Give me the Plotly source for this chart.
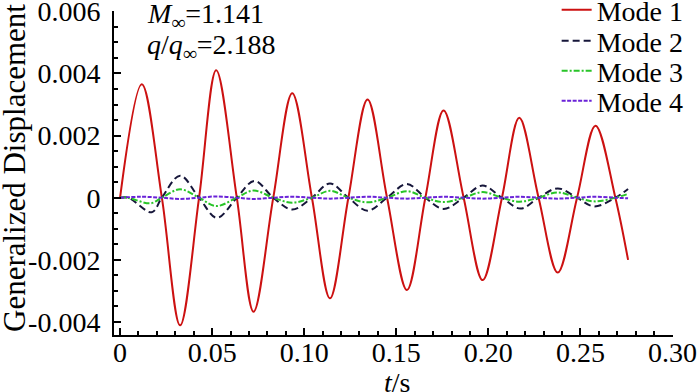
import plotly.graph_objects as go

# ---- data ----
t_mode1 = [0, 0.0118, 0.0227, 0.0326, 0.0429, 0.0522, 0.0634, 0.0725, 0.0832, 0.0935,
           0.1042, 0.114, 0.124, 0.1344, 0.145, 0.1558, 0.1658, 0.1757, 0.1866, 0.1969,
           0.2074, 0.2168, 0.2273, 0.2377, 0.2482, 0.2582, 0.269, 0.2759]
y_mode1 = [0, 0.00365, 0, -0.00411, 0, 0.0041, 0, -0.00367, 0, 0.00336,
           0, -0.00324, 0, 0.00316, 0, -0.00297, 0, 0.00281, 0, -0.00265,
           0, 0.00257, 0, -0.00241, 0, 0.00232, 0, -0.0020]

t_mode2 = [0, 0.0045, 0.0172, 0.0227, 0.0326, 0.0429, 0.0526, 0.0634, 0.073, 0.0832,
           0.0935, 0.1042, 0.114, 0.124, 0.1344, 0.145, 0.1558, 0.1658, 0.1757, 0.1866,
           0.1969, 0.2074, 0.2175, 0.2273, 0.2377, 0.2482, 0.2575, 0.269, 0.2759]
y_mode2 = [0, 0, -0.00047, 0, 0.00071, 0, -0.00065, 0, 0.00054, 0,
           -0.00038, 0, 0.00046, 0, -0.00042, 0, 0.00044, 0, -0.00036, 0,
           0.00039, 0, -0.00035, 0, 0.00030, 0, -0.00028, 0, 0.00028]

t_mode3 = [0, 0.004, 0.0165, 0.0227, 0.0326, 0.0429, 0.0522, 0.0634, 0.0725, 0.0832,
           0.0935, 0.1042, 0.114, 0.124, 0.1344, 0.145, 0.1558, 0.1658, 0.1757, 0.1866,
           0.1969, 0.2074, 0.2168, 0.2273, 0.2377, 0.2482, 0.2582, 0.269, 0.2759]
y_mode3 = [0, 0, -0.00018, 0, 0.00027, 0, -0.00027, 0, 0.00023, 0,
           -0.00016, 0, 0.00022, 0, -0.00015, 0, 0.00021, 0, -0.00014, 0,
           0.00018, 0, -0.00013, 0, 0.00017, 0, -0.00012, 0, 0.00012]

t_mode4 = [0, 0.0118, 0.0227, 0.0326, 0.0429, 0.0522, 0.0634, 0.0725, 0.0832, 0.0935,
           0.1042, 0.114, 0.124, 0.1344, 0.145, 0.1558, 0.1658, 0.1757, 0.1866, 0.1969,
           0.2074, 0.2168, 0.2273, 0.2377, 0.2482, 0.2582, 0.269, 0.2759]
y_mode4 = [0, 0.00003, 0, -0.00004, 0, 0.00004, 0, -0.00004, 0, 0.00003,
           0, -0.00003, 0, 0.00003, 0, -0.00003, 0, 0.00003, 0, -0.00003,
           0, 0.00003, 0, -0.00003, 0, 0.00003, 0, -0.00002]

x_tickvals = [0, 0.05, 0.10, 0.15, 0.20, 0.25, 0.30]
x_ticktext = ["0", "0.05", "0.10", "0.15", "0.20", "0.25", "0.30"]
y_tickvals = [-0.004, -0.002, 0, 0.002, 0.004, 0.006]
y_ticktext = ["-0.004", "-0.002", "0", "0.002", "0.004", "0.006"]

series_names = ["Mode 1", "Mode 2", "Mode 3", "Mode 4"]

FONT = "Liberation Serif"
FS = 28

styles = [
    dict(color="#cc1111", width=2, shape="spline"),
    dict(color="#16163a", width=2, shape="spline", dash="7px,4px"),
    dict(color="#28c428", width=2, shape="spline", dash="6px,2px,2px,2px"),
    dict(color="#6a22d8", width=2, shape="spline", dash="4px,1.5px"),
]
legend_ids = ["legend", "legend2", "legend3", "legend4"]
xs = [t_mode1, t_mode2, t_mode3, t_mode4]
ys = [y_mode1, y_mode2, y_mode3, y_mode4]

fig = go.Figure()
for name, x, y, st, lg in zip(series_names, xs, ys, styles, legend_ids):
    fig.add_trace(go.Scatter(x=x, y=y, name=name, mode="lines", line=st, legend=lg))

# plot area: x 114..673 px, y 11..335 px  (height 324)
legend_rows_px = [10, 41, 71, 101]
legend_layout = {}
for lg, ypx in zip(legend_ids, legend_rows_px):
    legend_layout[lg] = dict(x=1.028, xanchor="right", y=(335 - ypx) / 324, yanchor="middle",
                             bgcolor="rgba(0,0,0,0)", font=dict(family=FONT, size=FS),
                             borderwidth=0, itemwidth=30)

fig.update_layout(
    width=700, height=392,
    margin=dict(l=114, r=27, t=11, b=57, autoexpand=False),
    paper_bgcolor="white", plot_bgcolor="white",
    font=dict(family=FONT, size=FS, color="black"),
    showlegend=True,
    **legend_layout,
    xaxis=dict(range=[-0.0033, 0.3003], tickvals=x_tickvals, ticktext=x_ticktext,
               showgrid=False, zeroline=False, showline=True, linecolor="black", linewidth=2,
               ticks="inside", ticklen=7, tickwidth=1.5, tickcolor="black",
               tickfont=dict(family=FONT, size=FS), automargin=False, ticklabelstandoff=-9,
               ticklabeloverflow="allow",
               minor=dict(ticks="inside", dtick=0.01, tick0=0, ticklen=4, tickwidth=1.5, tickcolor="black")),
    yaxis=dict(range=[-0.00442, 0.00601], tickvals=y_tickvals, ticktext=y_ticktext,
               showgrid=False, zeroline=False, showline=True, linecolor="black", linewidth=2,
               ticks="inside", ticklen=7, tickwidth=1.5, tickcolor="black",
               tickfont=dict(family=FONT, size=FS), automargin=False, ticklabelstandoff=6,
               ticklabeloverflow="allow",
               minor=dict(ticks="inside", dtick=0.0005, tick0=0, ticklen=4, tickwidth=1.5, tickcolor="black")),
    annotations=[
        dict(text="Generalized Displacement", xref="paper", yref="paper",
             x=(14 - 114) / 559, y=(335 - 168) / 324, xanchor="center", yanchor="middle",
             textangle=-90, showarrow=False, font=dict(family=FONT, size=31)),
        dict(text="<i>t</i>/s", xref="paper", yref="paper", x=(397 - 114) / 559, y=(335 - 382) / 324,
             xanchor="center", yanchor="middle", showarrow=False, font=dict(family=FONT, size=FS)),
        dict(text="<i>M</i><sub>∞</sub>=1.141", xref="paper", yref="paper",
             x=(145 - 114) / 559, y=(335 - 15) / 324, xanchor="left", yanchor="middle", showarrow=False,
             font=dict(family=FONT, size=FS)),
        dict(text="<i>q</i>/<i>q</i><sub>∞</sub>=2.188", xref="paper", yref="paper",
             x=(145 - 114) / 559, y=(335 - 46) / 324, xanchor="left", yanchor="middle", showarrow=False,
             font=dict(family=FONT, size=FS)),
    ],
)

fig.write_html("out.html", config={"displayModeBar": False},
               post_script="document.body.style.margin='0px';")
